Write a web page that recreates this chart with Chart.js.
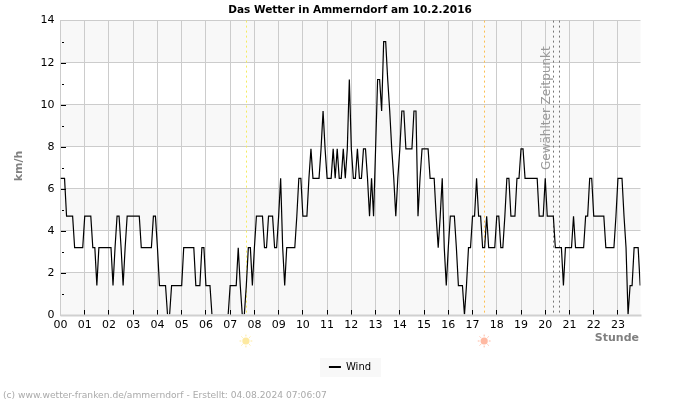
<!DOCTYPE html>
<html><head><meta charset="utf-8">
<style>html,body{margin:0;padding:0;background:#fff}#w{width:700px;height:400px;position:relative}</style>
<script src="https://cdn.jsdelivr.net/npm/chart.js@4"></script>
</head><body><div id="w"><canvas id="c" width="700" height="400"></canvas></div>
<script>
const chartTitle = "Das Wetter in Ammerndorf am 10.2.2016";
const yAxisTitle = "km/h";
const xAxisTitle = "Stunde";
const seriesName = "Wind";
const footerText = "(c) www.wetter-franken.de/ammerndorf - Erstellt: 04.08.2024 07:06:07";
const selectedLabel = "Gewählter Zeitpunkt";
const samplesPerHour = 12;
const windSpeed = [
6.5,6.5,6.5,4.7,4.7,4.7,4.7,3.2,3.2,3.2,3.2,3.2,
4.7,4.7,4.7,4.7,3.2,3.2,1.4,3.2,3.2,3.2,3.2,3.2,
3.2,3.2,1.4,3.2,4.7,4.7,3.2,1.4,3.2,4.7,4.7,4.7,
4.7,4.7,4.7,4.7,3.2,3.2,3.2,3.2,3.2,3.2,4.7,4.7,
3.2,1.4,1.4,1.4,1.4,0,0,1.4,1.4,1.4,1.4,1.4,
1.4,3.2,3.2,3.2,3.2,3.2,3.2,1.4,1.4,1.4,3.2,3.2,
1.4,1.4,1.4,0,0,0,0,0,0,0,0,0,
1.4,1.4,1.4,1.4,3.2,1.4,0,0,1.4,3.2,3.2,1.4,
3.2,4.7,4.7,4.7,4.7,3.2,3.2,4.7,4.7,4.7,3.2,3.2,
4.7,6.5,3.2,1.4,3.2,3.2,3.2,3.2,3.2,4.7,6.5,6.5,
4.7,4.7,4.7,6.5,7.9,6.5,6.5,6.5,6.5,7.9,9.7,7.9,
6.5,6.5,6.5,7.9,6.5,7.9,6.5,6.5,7.9,6.5,7.9,11.2,
7.9,6.5,6.5,7.9,6.5,6.5,7.9,7.9,6.5,4.7,6.5,4.7,
7.9,11.2,11.2,9.7,13,13,11.2,9.7,7.9,6.5,4.7,6.5,
7.9,9.7,9.7,7.9,7.9,7.9,7.9,9.7,9.7,4.7,6.5,7.9,
7.9,7.9,7.9,6.5,6.5,6.5,4.7,3.2,4.7,6.5,3.2,1.4,
3.2,4.7,4.7,4.7,3.2,1.4,1.4,1.4,0,1.4,3.2,3.2,
4.7,4.7,6.5,4.7,4.7,3.2,3.2,4.7,3.2,3.2,3.2,3.2,
4.7,4.7,3.2,3.2,4.7,6.5,6.5,4.7,4.7,4.7,6.5,6.5,
7.9,7.9,6.5,6.5,6.5,6.5,6.5,6.5,6.5,4.7,4.7,4.7,
6.5,4.7,4.7,4.7,4.7,3.2,3.2,3.2,3.2,1.4,3.2,3.2,
3.2,3.2,4.7,3.2,3.2,3.2,3.2,3.2,4.7,4.7,6.5,6.5,
4.7,4.7,4.7,4.7,4.7,4.7,3.2,3.2,3.2,3.2,3.2,4.7,
6.5,6.5,6.5,4.7,3.2,0,1.4,1.4,3.2,3.2,3.2,1.4];
const lastHour = 23.93;
const sunriseHour = 7.65, sunsetHour = 17.48;
const selectedHours = [20.33, 20.58];
const font = "'DejaVu Sans'";

const points = windSpeed.map((v, i) => ({x: i / samplesPerHour, y: v}));

function vline(ctx, a, xv, color, dash) {
  const x = Math.round(a.x.getPixelForValue(xv)) + 0.5;
  ctx.save(); ctx.strokeStyle = color; ctx.lineWidth = 1; ctx.setLineDash(dash);
  ctx.beginPath(); ctx.moveTo(x, a.y.top); ctx.lineTo(x, a.y.bottom); ctx.stroke(); ctx.restore();
}
function sun(ctx, x, y, color) {
  ctx.save(); ctx.fillStyle = color; ctx.strokeStyle = color; ctx.lineWidth = 1;
  ctx.beginPath(); ctx.arc(x, y, 3.6, 0, 7); ctx.fill();
  for (let k = 0; k < 8; k++) {
    const t = k * Math.PI / 4;
    ctx.beginPath(); ctx.moveTo(x + Math.cos(t) * 4.6, y + Math.sin(t) * 4.6);
    ctx.lineTo(x + Math.cos(t) * 6.4, y + Math.sin(t) * 6.4); ctx.stroke();
  }
  ctx.restore();
}
const decor = {
  id: 'decor',
  beforeDatasetsDraw(ch) {
    const ctx = ch.ctx, a = ch.scales;
    vline(ctx, a, sunriseHour, '#f5ec60', [2, 3]);
    vline(ctx, a, sunsetHour, '#fdbf50', [2, 3]);
    selectedHours.forEach(h => vline(ctx, a, h, '#777777', [2, 3]));
  },
  beforeDraw(ch) {
    const ctx = ch.ctx, a = ch.scales, r = ch.chartArea;
    ctx.save();
    [[0,2],[4,6],[8,10],[12,14]].forEach(([lo, hi]) => {
      const t = a.y.getPixelForValue(hi), b = a.y.getPixelForValue(lo);
      ctx.fillStyle = '#f8f8f8'; ctx.fillRect(r.left, t, r.right - r.left, b - t);
    });
    ctx.fillStyle = '#f8f8f8'; ctx.fillRect(320, 358, 61, 19);
    ctx.restore();
  },
  afterDatasetsDraw(ch) {
    const ctx = ch.ctx, a = ch.scales, r = ch.chartArea;
    ctx.save();
    ctx.strokeStyle = '#d0d0d0'; ctx.lineWidth = 2;
    ctx.beginPath(); ctx.moveTo(r.left, r.bottom + .5); ctx.lineTo(r.right + 1, r.bottom + .5); ctx.stroke();
    ctx.strokeStyle = '#000'; ctx.lineWidth = 1;
    for (let h = 1; h < 24; h++) {
      const x = Math.round(a.x.getPixelForValue(h) - .5) + .5;
      ctx.beginPath(); ctx.moveTo(x, r.bottom - 5); ctx.lineTo(x, r.bottom - .5); ctx.stroke();
    }
    for (let v = 1; v < 14; v++) {
      const y = Math.round(a.y.getPixelForValue(v)) + .5;
      ctx.beginPath(); ctx.moveTo(r.left + (v % 2 ? 1.5 : .5), y); ctx.lineTo(r.left + (v % 2 ? 3.5 : 5.5), y); ctx.stroke();
    }
    ctx.fillStyle = '#999999'; ctx.font = "12px " + font;
    ctx.save(); ctx.translate(550, 170); ctx.rotate(-Math.PI / 2);
    ctx.textAlign = 'left'; ctx.textBaseline = 'alphabetic'; ctx.fillText(selectedLabel, 0, 0); ctx.restore();
    ctx.fillStyle = '#808080'; ctx.font = "bold 11px " + font;
    ctx.save(); ctx.translate(19, 166); ctx.rotate(-Math.PI / 2);
    ctx.textAlign = 'center'; ctx.fillText(yAxisTitle, 0, 0); ctx.restore();
    ctx.textAlign = 'right'; ctx.fillText(xAxisTitle, 639, 338);
    ctx.fillStyle = '#aaaaaa'; ctx.font = "9.15px " + font; ctx.textAlign = 'left';
    ctx.fillText(footerText, 3, 395.5);
    sun(ctx, a.x.getPixelForValue(sunriseHour), 341, '#fde9a0');
    sun(ctx, a.x.getPixelForValue(sunsetHour), 341, '#ffb9a2');
    ctx.restore();
  }
};

new Chart(document.getElementById('c'), {
  type: 'scatter',
  data: { datasets: [{ label: seriesName, data: points, showLine: true, borderColor: '#000', backgroundColor: '#000',
    borderWidth: 1.2, pointRadius: 0, tension: 0, clip: { left: 0, top: 0, right: 0, bottom: -0.7 } }] },
  plugins: [decor],
  options: {
    responsive: false, animation: false, devicePixelRatio: 1,
    layout: { padding: { left: 0, right: 0, top: 0, bottom: 18 } },
    plugins: {
      tooltip: { enabled: false },
      title: { display: true, text: chartTitle, color: '#000', font: { family: font, size: 10.5, weight: 'bold' }, padding: { top: 4, bottom: 4 } },
      legend: { display: true, position: 'bottom', align: 'center',
        labels: { usePointStyle: true, pointStyle: 'line', pointStyleWidth: 12, color: '#000', font: { family: font, size: 10 }, padding: 4, boxHeight: 8,
          generateLabels: () => [{ text: seriesName, pointStyle: 'line', strokeStyle: '#000', fillStyle: '#000', lineWidth: 2, fontColor: '#000' }] } }
    },
    scales: {
      x: { type: 'linear', min: 0, max: lastHour,
        afterFit(s) { s.height = 43; },
        grid: { color: '#cccccc', lineWidth: 1, drawTicks: false },
        border: { color: '#cccccc' },
        ticks: { stepSize: 1, autoSkip: false, maxRotation: 0, includeBounds: false, color: '#000', padding: 4,
          font: { family: font, size: 11 }, callback: v => String(v).padStart(2, '0') } },
      y: { min: 0, max: 14,
        afterFit(s) { s.width = 60.5; },
        grid: { color: '#cccccc', lineWidth: 1, drawTicks: false },
        border: { color: '#cccccc' },
        ticks: { stepSize: 2, color: '#000', padding: 6, font: { family: font, size: 11 } } },
      rightGap: { position: 'right', min: 0, max: 14,
        afterFit(s) { s.width = 59.5; },
        grid: { display: false }, border: { display: false }, ticks: { display: false } }
    }
  }
});
</script></body></html>
